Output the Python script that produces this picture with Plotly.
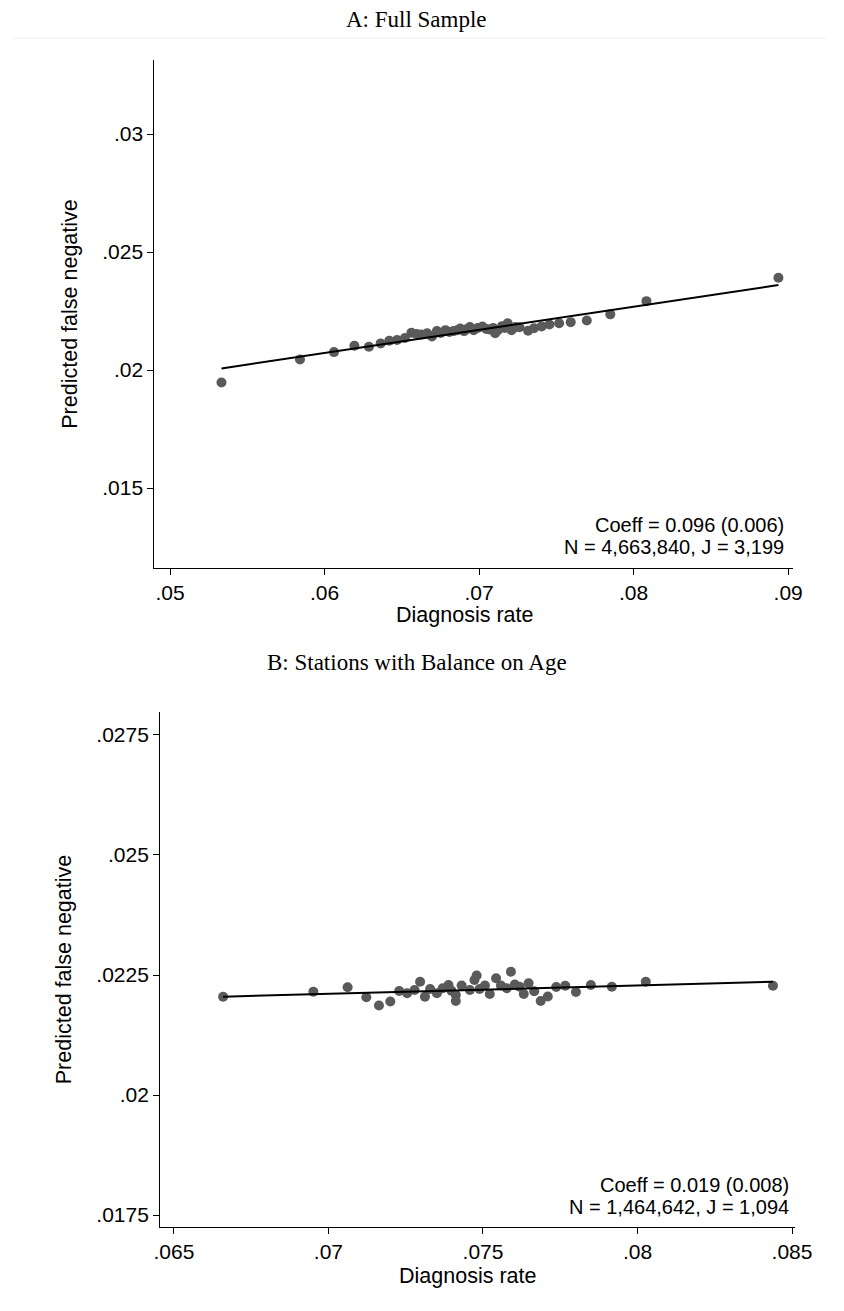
import plotly.graph_objects as go

# ---------------- Panel A: Full Sample ----------------
a_x = [0.05333, 0.05841, 0.06061, 0.06193, 0.06287, 0.06363, 0.06419, 0.06469, 0.06520,
       0.06562, 0.06595, 0.06626, 0.06664, 0.06695, 0.06727, 0.06752, 0.06783, 0.06808,
       0.06834, 0.06859, 0.06878, 0.06903, 0.06922, 0.06940, 0.06965, 0.06991, 0.07022,
       0.07047, 0.07066, 0.07091, 0.07104, 0.07122, 0.07148, 0.07166, 0.07185, 0.07210,
       0.07236, 0.07261, 0.07317, 0.07355, 0.07405, 0.07455, 0.07518, 0.07593, 0.07697,
       0.07849, 0.08083, 0.08937]
a_y = [0.01947, 0.02045, 0.02076, 0.02103, 0.02099, 0.02113, 0.02124, 0.02127, 0.02136,
       0.02158, 0.02153, 0.02151, 0.02156, 0.02142, 0.02165, 0.02157, 0.02169, 0.02161,
       0.02165, 0.02169, 0.02176, 0.02165, 0.02174, 0.02182, 0.02169, 0.02178, 0.02184,
       0.02174, 0.02172, 0.02178, 0.02156, 0.02169, 0.02186, 0.02178, 0.02198, 0.02169,
       0.02182, 0.02181, 0.02167, 0.02177, 0.02185, 0.02193, 0.02198, 0.02203, 0.02210,
       0.02236, 0.02292, 0.02391]
a_fit_x = [0.05333, 0.08937]
a_fit_y = [0.02007, 0.02360]
a_xticks = [0.05, 0.06, 0.07, 0.08, 0.09]
a_xtick_text = [".05", ".06", ".07", ".08", ".09"]
a_yticks = [0.015, 0.02, 0.025, 0.03]
a_ytick_text = [".015", ".02", ".025", ".03"]
a_note = ["Coeff = 0.096 (0.006)", "N = 4,663,840, J = 3,199"]

# ---------------- Panel B: Stations with Balance on Age ----------------
b_x = [0.066592, 0.069512, 0.070620, 0.071226, 0.071634, 0.072002, 0.072290, 0.072545,
       0.072786, 0.072965, 0.073122, 0.073289, 0.073509, 0.073697, 0.073885, 0.073980,
       0.074121, 0.074121, 0.074309, 0.074576, 0.074724, 0.074796, 0.074890, 0.075063,
       0.075220, 0.075424, 0.075581, 0.075769, 0.075904, 0.076030, 0.076187, 0.076319,
       0.076476, 0.076658, 0.076868, 0.077097, 0.077370, 0.077662, 0.078008, 0.078491,
       0.079169, 0.080268, 0.084382]
b_y = [0.022048, 0.022152, 0.022244, 0.022035, 0.021865, 0.021948, 0.022167, 0.022119,
       0.022188, 0.022360, 0.022048, 0.022208, 0.022119, 0.022223, 0.022292, 0.022173,
       0.022083, 0.021958, 0.022281, 0.022188, 0.022396, 0.022490, 0.022208, 0.022281,
       0.022104, 0.022431, 0.022281, 0.022223, 0.022569, 0.022302, 0.022256, 0.022104,
       0.022327, 0.022160, 0.021958, 0.022052, 0.022250, 0.022277, 0.022146, 0.022292,
       0.022256, 0.022360, 0.022277]
b_fit_x = [0.066592, 0.084382]
b_fit_y = [0.022048, 0.022360]
b_xticks = [0.065, 0.07, 0.075, 0.08, 0.085]
b_xtick_text = [".065", ".07", ".075", ".08", ".085"]
b_yticks = [0.0175, 0.02, 0.0225, 0.025, 0.0275]
b_ytick_text = [".0175", ".02", ".0225", ".025", ".0275"]
b_note = ["Coeff = 0.019 (0.008)", "N = 1,464,642, J = 1,094"]

titles = ["A: Full Sample", "B: Stations with Balance on Age"]
x_title = "Diagnosis rate"
y_title = "Predicted false negative"

W, H = 844, 1311
MARK = "rgb(90,90,90)"
SANS = "Liberation Sans, Arial, sans-serif"
SERIF = "Liberation Serif, Times New Roman, serif"

fig = go.Figure()
fig.add_trace(go.Scatter(x=a_x, y=a_y, mode="markers", xaxis="x", yaxis="y",
                         marker=dict(size=10, color=MARK), showlegend=False))
fig.add_trace(go.Scatter(x=a_fit_x, y=a_fit_y, mode="lines", xaxis="x", yaxis="y",
                         line=dict(color="black", width=2), showlegend=False))
fig.add_trace(go.Scatter(x=b_x, y=b_y, mode="markers", xaxis="x2", yaxis="y2",
                         marker=dict(size=10, color=MARK), showlegend=False))
fig.add_trace(go.Scatter(x=b_fit_x, y=b_fit_y, mode="lines", xaxis="x2", yaxis="y2",
                         line=dict(color="black", width=2), showlegend=False))

def px_x(p):
    return p / W

def px_y(p):
    return 1 - p / H

axis_common = dict(showgrid=False, zeroline=False, showline=True, linecolor="black",
                   linewidth=1.4, ticks="outside", ticklen=6, tickcolor="black",
                   tickwidth=1.4, tickfont=dict(family=SANS, size=21, color="black"))
title_font = dict(family=SANS, size=21.5, color="black")

fig.update_layout(
    width=W, height=H, margin=dict(l=0, r=0, t=0, b=0),
    paper_bgcolor="white", plot_bgcolor="white",
    xaxis=dict(domain=[px_x(152), px_x(810)], anchor="y",
               range=[0.048995, 0.090314], tickvals=a_xticks, ticktext=a_xtick_text,
               **axis_common),
    yaxis=dict(domain=[px_y(568), px_y(60)], anchor="x",
               range=[0.01161, 0.03314], tickvals=a_yticks, ticktext=a_ytick_text,
               title=dict(text=y_title, font=title_font, standoff=18),
               **axis_common),
    xaxis2=dict(domain=[px_x(158), px_x(812)], anchor="y2",
                range=[0.06456, 0.085094], tickvals=b_xticks, ticktext=b_xtick_text,
                **axis_common),
    yaxis2=dict(domain=[px_y(1227), px_y(712)], anchor="x2",
                range=[0.01725, 0.027979], tickvals=b_yticks, ticktext=b_ytick_text,
                title=dict(text=y_title, font=title_font, standoff=18),
                **axis_common),
)

# panel titles
for txt, ypix in zip(titles, [20, 662]):
    fig.add_annotation(text=txt, xref="paper", yref="paper", x=0.5, y=px_y(ypix),
                       showarrow=False, xanchor="center", yanchor="middle",
                       font=dict(family=SERIF, size=23, color="black"))

# x-axis titles
for xc, ypix in [(471, 615), (475, 1276)]:
    fig.add_annotation(text=x_title, xref="paper", yref="paper", x=px_x(xc), y=px_y(ypix),
                       showarrow=False, xanchor="center", yanchor="middle", font=title_font)

# coefficient notes (one annotation per line, placed at pixel rows)
for note, xright, ys in [(a_note, 803, [525, 547]), (b_note, 808, [1185, 1207])]:
    for line, ypix in zip(note, ys):
        fig.add_annotation(text=line, xref="paper", yref="paper",
                           x=px_x(xright), y=px_y(ypix),
                           showarrow=False, xanchor="right", yanchor="middle",
                           font=dict(family=SANS, size=20, color="black"))

# faint separator below the first title
fig.add_shape(type="line", xref="paper", yref="paper", x0=px_x(7), x1=1,
              y0=px_y(38), y1=px_y(38), line=dict(color="rgb(232,238,238)", width=1))

fig.write_html("out.html")
